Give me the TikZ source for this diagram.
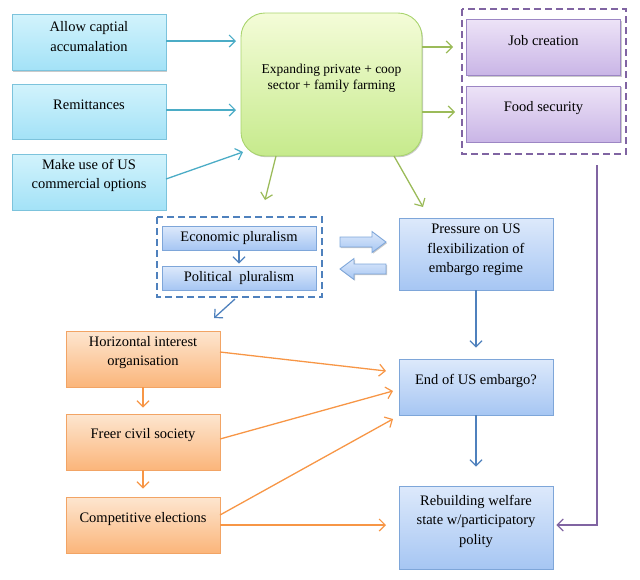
\documentclass[tikz,border=0pt]{standalone}
\usepackage{fontspec}
\setmainfont{Liberation Serif}
\usetikzlibrary{arrows.meta,shadows}
\definecolor{cyanD}{HTML}{7CC3DC}
\definecolor{cyanT}{HTML}{D2F3FC}
\definecolor{cyanB}{HTML}{A3E2F7}
\definecolor{greenD}{HTML}{A9D46E}
\definecolor{greenT}{HTML}{F4FCD8}
\definecolor{greenB}{HTML}{C6EA8C}
\definecolor{purD}{HTML}{9C86C4}
\definecolor{purT}{HTML}{EDE3F7}
\definecolor{purB}{HTML}{C9B5E6}
\definecolor{bluD}{HTML}{7EA6D9}
\definecolor{bluT}{HTML}{DDE9FB}
\definecolor{bluB}{HTML}{A6C6F3}
\definecolor{orD}{HTML}{F2A465}
\definecolor{orT}{HTML}{FDE6D0}
\definecolor{orB}{HTML}{FBB57A}
\definecolor{acyan}{HTML}{4BACC6}
\definecolor{agreen}{HTML}{9BBB59}
\definecolor{ablue}{HTML}{4F81BD}
\definecolor{aorange}{HTML}{F79646}
\definecolor{apurple}{HTML}{8064A2}
\begin{document}
\begin{tikzpicture}[x=1pt,y=-1pt,
  shad/.style={drop shadow={opacity=0.35,shadow xshift=1pt,shadow yshift=-1.2pt,fill=black!60}},
  boxbase/.style={rectangle,inner sep=0pt,line width=0.9pt,shad},
  cyanbox/.style={boxbase,draw=cyanD,top color=cyanT,bottom color=cyanB},
  greenbox/.style={boxbase,rounded corners=24pt,draw=greenD,top color=greenT,bottom color=greenB},
  purbox/.style={boxbase,draw=purD,top color=purT,bottom color=purB},
  blubox/.style={boxbase,draw=bluD,top color=bluT,bottom color=bluB},
  orbox/.style={boxbase,draw=orD,top color=orT,bottom color=orB},
  txt/.style={align=center,inner sep=0pt,font=\fontsize{14.5}{19.5}\selectfont},
  gtxt/.style={align=center,inner sep=0pt,font=\fontsize{13.5}{16.5}\selectfont},
  tip/.style={-{Straight Barb[length=6pt,width=12pt,line width=1.2pt]}},
  conn/.style={tip,line width=1.3pt},
  blockshape/.style={draw=bluD,line width=0.9pt,top color=bluT,bottom color=bluB,shad},
  grp/.style={dashed,dash pattern=on 7pt off 4pt,line width=1.8pt}
]
\useasboundingbox (0,0) rectangle (640,579);
% groups
\draw[grp,draw=apurple] (462,9) rectangle (626,154);
\draw[grp,draw=ablue] (157,217) rectangle (322,297);
% cyan boxes
\node[cyanbox,minimum width=154,minimum height=56] (ac) at (89,42.5) {};
\node[txt] (act) at (89,36.5) {Allow captial\\accumalation};
\node[cyanbox,minimum width=154,minimum height=55] (re) at (89,111.5) {};
\node[txt] (ret) at (89,105) {Remittances};
\node[cyanbox,minimum width=154,minimum height=56] (mu) at (89,182) {};
\node[txt] (mut) at (89,175.5) {Make use of US\\commercial options};
% green
\node[greenbox,minimum width=181,minimum height=143] (gr) at (331.5,84.5) {};
\node[gtxt] (grt) at (331.5,78.5) {Expanding private + coop\\sector + family farming};
% purple
\node[purbox,minimum width=154,minimum height=56] (jc) at (543.5,47.5) {};
\node[txt] (jct) at (543.5,41) {Job creation};
\node[purbox,minimum width=154,minimum height=56] (fs) at (543.5,114) {};
\node[txt] (fst) at (543.5,108) {Food security};
% pluralism
\node[blubox,minimum width=154,minimum height=24] (ep) at (239,238) {};
\node[txt] (ept) at (239,238) {Economic pluralism};
\node[blubox,minimum width=154,minimum height=24] (pp) at (239,278) {};
\node[txt] (ppt) at (239,278) {Political\ \ pluralism};
% block arrows
\path[blockshape] (340,237) -- (372,237) -- (372,231.5) -- (386,242) -- (372,252.5) -- (372,247) -- (340,247) -- cycle;
\path[blockshape] (386,264) -- (354,264) -- (354,258.5) -- (340,269) -- (354,279.5) -- (354,274) -- (386,274) -- cycle;
% right column
\node[blubox,minimum width=154,minimum height=72] (pr) at (476,254) {};
\node[txt] (prt) at (476,250) {Pressure on US\\flexibilization of\\embargo regime};
\node[blubox,minimum width=154,minimum height=56] (en) at (476,387) {};
\node[txt] (ent) at (476,381) {End of US embargo?};
\node[blubox,minimum width=154,minimum height=83] (rb) at (476,527.5) {};
\node[txt] (rbt) at (476,521) {Rebuilding welfare\\state w/participatory\\polity};
% orange
\node[orbox,minimum width=154,minimum height=56] (hi) at (143,359) {};
\node[txt] (hit) at (143,352.5) {Horizontal interest\\organisation};
\node[orbox,minimum width=154,minimum height=56] (fc) at (143,442) {};
\node[txt] (fct) at (143,435) {Freer civil society};
\node[orbox,minimum width=154,minimum height=56] (ce) at (143,525) {};
\node[txt] (cet) at (143,519) {Competitive elections};
% coordinates for arrow ends
\coordinate (g1) at (236,41);
\coordinate (g2) at (236,110);
\coordinate (g3) at (243,152);
\coordinate (j1) at (453,47);
\coordinate (f1) at (455,112);
\coordinate (d1) at (265,200);
\coordinate (d2) at (423,207);
\coordinate (pl) at (214,318);
\coordinate (e0) at (386,371);
\coordinate (e1) at (393,391);
\coordinate (e2) at (393,419);
\coordinate (r1) at (386,525);
\coordinate (pa) at (597,165);
\coordinate (pb) at (597,525);
% cyan arrows
\draw[conn,acyan] (ac.east |- g1) -- (g1);
\draw[conn,acyan] (re.east |- g2) -- (g2);
\draw[conn,acyan] (166,179) -- (g3);
% green arrows
\draw[conn,agreen] (gr.east |- j1) -- (j1);
\draw[conn,agreen] (gr.east |- f1) -- (f1);
\draw[conn,agreen] (276,156) -- (d1);
\draw[conn,agreen] (394,156) -- (d2);
% blue arrows
\draw[conn,ablue] (ep.south) -- ([yshift=2pt]pp.north);
\draw[conn,ablue] (235,299) -- (pl);
\draw[conn,ablue] (pr.south) -- ([yshift=11pt]en.north);
\draw[conn,ablue] (en.south) -- ([yshift=19pt]rb.north);
% orange arrows
\draw[conn,aorange] (hi.south) -- ([yshift=6pt]fc.north);
\draw[conn,aorange] (fc.south) -- ([yshift=8pt]ce.north);
\draw[conn,aorange] (220,352) -- (e0);
\draw[conn,aorange] (220,439) -- (e1);
\draw[conn,aorange] (220,515) -- (e2);
\draw[conn,aorange] (ce.east |- r1) -- (r1);
% purple
\draw[conn,apurple] (pa) -- (pb) -- ([xshift=3pt]rb.east |- pb);
\end{tikzpicture}
\end{document}
